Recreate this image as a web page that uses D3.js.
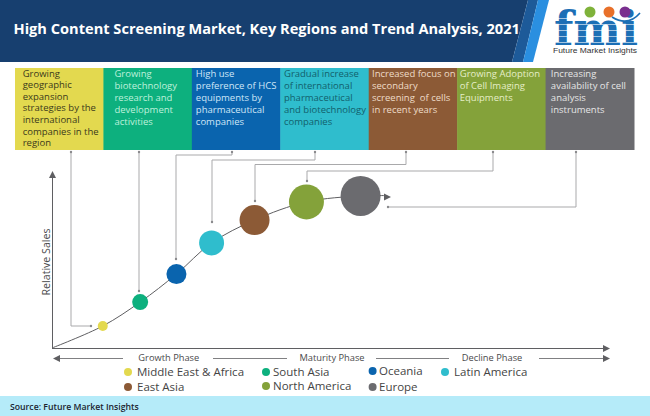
<!DOCTYPE html>
<html><head><meta charset="utf-8">
<script src="https://cdn.jsdelivr.net/npm/d3@7"></script>
<style>html,body{margin:0;padding:0;background:#fff}svg{display:block}</style>
</head><body><svg id="c" width="650" height="416" font-family="'Open Sans',sans-serif"></svg>
<script>
const title = "High Content Screening Market, Key Regions and Trend Analysis, 2021";
const regions = ["Middle East & Africa","South Asia","Oceania","Latin America","East Asia","North America","Europe"];
const colors = ["#e3d94f","#0db07e","#0a64ae","#2fbdcd","#8c5a36","#84a23a","#6b6b6f"];
const stage = [9.1,15.8,22.3,28.6,36.3,45.6,55.3];
const relativeSales = [12.5,26.1,42,59.7,72.7,83,86.4];
const marketSize = [25,64,100,156,225,306,400];
const drivers = [
 ["Growing","geographic","expansion","strategies by the","international","companies in the","region"],
 ["Growing","biotechnology","research and","development","activities"],
 ["High use","preference of HCS","equipments by","pharmaceutical","companies"],
 ["Gradual increase","of international","pharmaceutical","and biotechnology","companies"],
 ["Increased focus on","secondary","screening  of cells","in recent years"],
 ["Growing Adoption","of Cell Imaging","Equipments"],
 ["Increasing","availability of cell","analysis","instruments"]];
const driverText = ["#3b3a1c","#bff0dc","#cfe6f7","#12606c","#eedcc8","#e4eec8","#e6e6e6"];
const phases = ["Growth Phase","Maturity Phase","Decline Phase"];
const svg = d3.select("#c");
const grey="#5f5f62", line="#a9a9ab";

// header
svg.append("rect").attr("width",650).attr("height",416).attr("fill","#fff");
svg.append("path").attr("d","M0 0H528L512 62H0Z").attr("fill","#173f6f");
svg.append("path").attr("d","M528 0H538L523 62H512Z").attr("fill","#1d5a99");
svg.append("path").attr("d","M538 0H549L533 62H523Z").attr("fill","#2a8fe0");
svg.append("text").attr("x",13.5).attr("y",33.5).attr("font-size",14.6).attr("font-weight",700).attr("fill","#fff").text(title);

// logo
const logo = svg.append("g");
logo.append("text").attr("x",554).attr("y",45).attr("font-size",46).attr("font-weight",700)
 .style("font-family","'DejaVu Serif'").attr("textLength",84).attr("lengthAdjust","spacingAndGlyphs").attr("fill","#1c6fb5").text("fmi");
[18,24,30,36,42].forEach(y=>logo.append("rect").attr("x",553).attr("y",y).attr("width",87).attr("height",.8).attr("fill","#fff").attr("opacity",.75));
[[590,"#7fb23a"],[609,"#e8702a"],[625,"#7a2f8f"]].forEach(d=>logo.append("circle").attr("cx",d[0]).attr("cy",12).attr("r",5.5).attr("fill",d[1]));
logo.append("path").attr("d","M612 17Q628 27 640 13").attr("fill","none").attr("stroke","#1c6fb5").attr("stroke-width",1.6);
logo.append("text").attr("x",553).attr("y",53).attr("font-size",8).style("font-family","'Liberation Sans'").attr("fill","#333").attr("textLength",84).attr("lengthAdjust","spacingAndGlyphs").text("Future Market Insights");

// driver boxes
const band = d3.scaleBand().domain(regions).range([15,634]);
const textInset=[7.7,11,4,3.7,3.3,2.6,5.3];
regions.forEach((r,i)=>{
 const g = svg.append("g").attr("transform",`translate(${band(r)},68)`);
 g.append("rect").attr("width",band.bandwidth()+.5).attr("height",82).attr("fill",colors[i]);
 g.selectAll("text").data(drivers[i]).join("text").attr("x",textInset[i])
  .attr("y",(d,k)=>8.5+k*(i==0?11.6:12)).attr("font-size",9.5).attr("fill",driverText[i]).attr("xml:space","preserve").text(d=>d);
});

// scales
const x = d3.scaleLinear().domain([0,100]).range([52,610]);
const y = d3.scaleLinear().domain([0,100]).range([348,172]);
const r = d3.scaleSqrt().domain([0,400]).range([0,20]);

// connectors
const routes=[[[71,152],[71,326],[91,326]],[[139,152],[139,291]],[[232,152],[232,155],[176,155],[176,259]],
 [[315,152],[315,160],[212,160],[212,222]],[[406,152],[406,164.5],[255,164.5],[255,201]],
 [[493,152],[493,171],[307,171],[307,181]],[[576,152],[576,207],[388,207]]];
routes.forEach(p=>{
 svg.append("path").attr("d",d3.line()(p)).attr("fill","none").attr("stroke",line).attr("stroke-width",1);
 [p[0],p[p.length-1]].forEach(q=>svg.append("circle").attr("cx",q[0]).attr("cy",q[1]).attr("r",1.2).attr("fill","#8a8a8d"));
});

// axes
svg.append("path").attr("d",`M${x(0)+.5} ${y(0)}V${y(0)-170}`).attr("stroke",grey).attr("fill","none");
svg.append("path").attr("d",`M${x(0)} ${y(0)+.5}H604`).attr("stroke",grey).attr("fill","none");
const tri=(d)=>svg.append("path").attr("d",d).attr("fill",grey);
tri("M52.5 171L56 178H49Z"); tri("M610 348.5L603 345V352Z"); tri("M610 358.5L603 355V362Z"); tri("M53 358.5L60 355V362Z");tri("M391 197L384 193.5V200.5Z");
[[56,123],[213,287],[376,449],[539,605]].forEach(a=>svg.append("path").attr("d",`M${a[0]} 358.5H${a[1]}`).attr("stroke",grey).attr("stroke-width",.8));
svg.append("text").attr("transform","translate(49.5,262) rotate(-90)").attr("text-anchor","middle").attr("font-size",10.6).attr("fill","#4a4a4c").text("Relative Sales");
[168.8,332,492].forEach((px,i)=>svg.append("text").attr("x",px).attr("y",361).attr("text-anchor","middle").attr("font-size",9.3).attr("fill","#4a4a4c").text(phases[i]));

// curve
const curve=d3.line().x(d=>x(d[0])).y(d=>y(d[1])).curve(d3.curveCatmullRom.alpha(.5));
svg.append("path").attr("d",curve([[0,0]].concat(stage.map((s,i)=>[s,relativeSales[i]])).concat([[59.5,86.6]]))).attr("fill","none").attr("stroke",grey).attr("stroke-width",1);

// bubbles
svg.selectAll("circle.b").data(regions).join("circle").attr("class","b")
 .attr("cx",(d,i)=>x(stage[i])).attr("cy",(d,i)=>y(relativeSales[i])).attr("r",(d,i)=>r(marketSize[i])).attr("fill",(d,i)=>colors[i]);

// legend
const legendPos=[[128,372,137],[266,372,273],[372.6,371,379],[445,372,454],[128,387,137],[266,386,273],[372.6,387,379]];
regions.forEach((n,i)=>{const p=legendPos[i];
 svg.append("circle").attr("cx",p[0]).attr("cy",p[1]).attr("r",4).attr("fill",colors[i]);
 svg.append("text").attr("x",p[2]).attr("y",p[1]+4).attr("font-size",11.5).attr("fill","#444").text(n);
});

// source
svg.append("rect").attr("y",396).attr("width",650).attr("height",20).attr("fill","#b5ebf9");
svg.append("text").attr("x",10).attr("y",410).attr("font-size",8.7).attr("font-weight",600).attr("fill","#1b2430").text("Source: Future Market Insights");
</script></body></html>
